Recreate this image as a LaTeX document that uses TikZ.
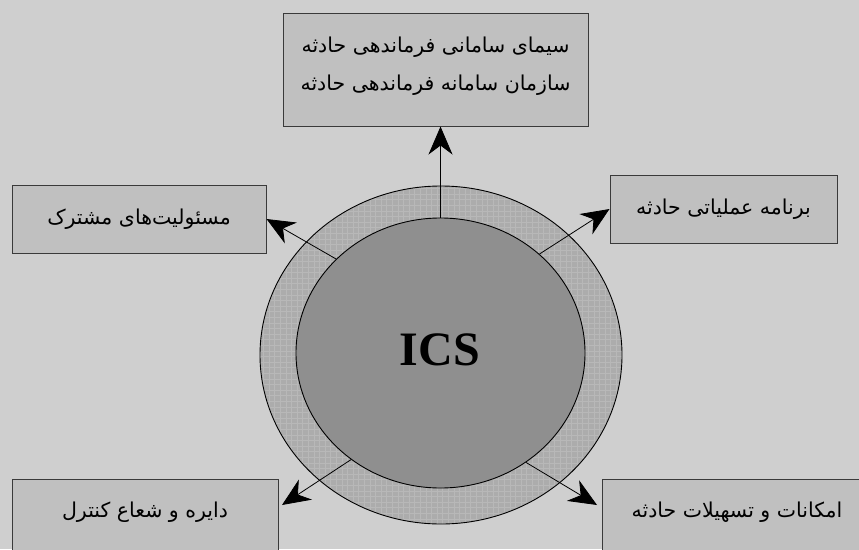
\documentclass[tikz,border=0pt]{standalone}
\usepackage{fontspec}
\usetikzlibrary{shapes.geometric,arrows.meta}
\TeXXeTstate=1
\newfontfamily\fa[Script=Arabic]{DejaVu Sans}
\newfontfamily\icsfont{Liberation Serif}
\definecolor{bgc}{HTML}{CFCFCF}
\definecolor{boxc}{HTML}{C0C0C0}
\definecolor{ringc}{HTML}{ACACAC}
\definecolor{gridc}{HTML}{B8B8B8}
\definecolor{innerc}{HTML}{8F8F8F}
\definecolor{edgec}{HTML}{3A3A3A}
\tikzset{
  fatext/.style={font=\fa\fontsize{20.5}{38}\selectfont, align=center},
  fabox/.style={fatext, draw=edgec, line width=1pt, fill=boxc, inner sep=0pt},
  arr/.style={-{Stealth[length=28pt,width=24pt,inset=9pt]}, line width=0.8pt, black},
}
\begin{document}
\begin{tikzpicture}[x=1pt,y=-1pt]
\useasboundingbox (0,0) rectangle (859,549);
\fill[bgc] (0,0) rectangle (859,549);
\clip (0,0) rectangle (859,549);
% ring
\begin{scope}
  \clip (441,355) ellipse [x radius=181, y radius=169];
  \fill[ringc] (260,186) rectangle (622,524);
  \foreach \i in {0,...,66} {
    \draw[gridc, line width=0.7pt] (258+5.6*\i,180) -- (258+5.6*\i,530);
  }
  \foreach \i in {0,...,63} {
    \draw[gridc, line width=0.7pt] (255,183+5.6*\i) -- (628,183+5.6*\i);
  }
\end{scope}
\node[ellipse, draw=black, line width=0.9pt, minimum width=362pt, minimum height=338pt, inner sep=0pt] (outer) at (441,355) {};
\node[ellipse, draw=black, line width=0.9pt, fill=innerc, minimum width=289pt, minimum height=270pt, inner sep=0pt] (inner) at (440.5,353) {};
\node[font=\icsfont\bfseries\fontsize{48}{48}\selectfont] (ics) at (440,350) {ICS};
% boxes
\node[fabox, minimum width=305pt, minimum height=113pt] (top) at (435.5,69.5) {};
\node[fatext] (toptext) at (435.5,66)
  {\beginR سیمای سامانی فرماندهی حادثه\endR\\\beginR سازمان سامانه فرماندهی حادثه\endR};
\node[fabox, minimum width=254pt, minimum height=68pt] (ul) at (139,219)
  {\beginR مسئولیت‌های مشترک\endR};
\node[fabox, minimum width=227pt, minimum height=68pt] (ur) at (723.5,209)
  {\beginR برنامه عملیاتی حادثه\endR};
\node[fabox, minimum width=266pt, minimum height=90pt, anchor=north west] (ll) at (12,479) {};
\node[fatext] (llt) at (145,512) {\beginR دایره و شعاع کنترل\endR};
\node[fabox, minimum width=266pt, minimum height=90pt, anchor=north west] (lr) at (602,479) {};
\node[fatext] (lrt) at (737,512) {\beginR امکانات و تسهیلات حادثه\endR};
\coordinate (lltip) at (282,505);
\coordinate (lrtip) at (597,505);
% arrows
\draw[arr] (inner.90) -- (inner.90 |- top.south);
\draw[arr] (inner.138) -- (ul.east);
\draw[arr] (inner.45) -- (ur.west);
\draw[arr] (inner.230) -- (lltip);
\draw[arr] (inner.308) -- (lrtip);
\end{tikzpicture}
\end{document}
